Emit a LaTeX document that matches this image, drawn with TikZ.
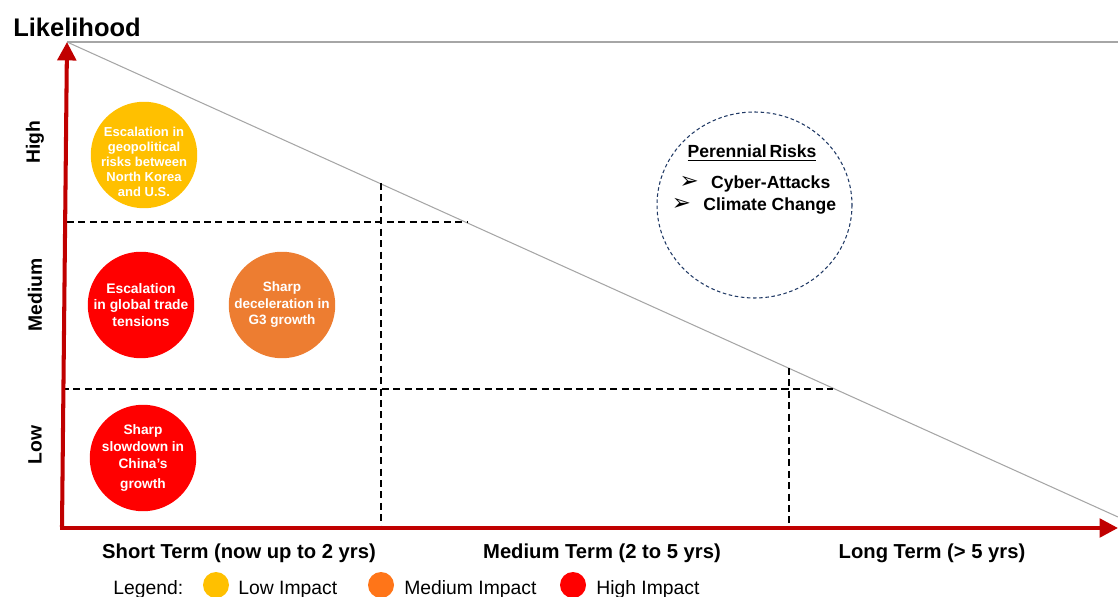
\documentclass[tikz,border=0pt]{standalone}
\usepackage{fontspec}
\setmainfont{Liberation Sans}
\newfontfamily\dingfont{DejaVu Sans}
\usetikzlibrary{arrows.meta}

\definecolor{axisred}{HTML}{C00000}
\definecolor{lowimp}{HTML}{FFC000}
\definecolor{medimp}{HTML}{ED7D31}
\definecolor{medleg}{HTML}{FF7518}
\definecolor{highimp}{HTML}{FF0000}
\definecolor{guidegray}{HTML}{A6A6A6}
\definecolor{ringblue}{HTML}{1F3864}

\begin{document}
\begin{tikzpicture}[x=0.02cm,y=-0.02cm,
    axis/.style={line width=2.3pt,axisred,-{Triangle[length=10.5pt,width=10.5pt]}},
    guide/.style={guidegray,line width=0.6pt},
    zone/.style={black,line width=0.8pt,dash pattern=on 4pt off 2.5pt},
    bubble/.style={circle,fill=#1,minimum size=2.13cm,inner sep=0pt,text=white,align=center},
    legdot/.style={circle,fill=#1,minimum size=0.52cm,inner sep=0pt},
    termlabel/.style={font=\fontsize{11.5}{13}\selectfont\bfseries,inner sep=0pt},
    levellabel/.style={font=\fontsize{11}{13}\selectfont\bfseries,rotate=90,inner sep=0pt},
    legtext/.style={font=\fontsize{11}{13}\selectfont,anchor=base west,inner sep=0pt}]
    \useasboundingbox (0,0) rectangle (1118,597);
    \newcommand\arrowbullet{{\dingfont\fontsize{13}{12}\selectfont ➢}\hspace{7pt}}

    \node[anchor=base west,inner sep=0pt,font=\fontsize{14.5}{16}\selectfont\bfseries] (title) at (13,37) {Likelihood};

    \coordinate (origin) at (62,527);
    \coordinate (ytop) at (67,42);
    \coordinate (xend) at (1118,528);
    \coordinate (topright) at (1118,42);
    \coordinate (diagend) at (1118,517);

    % frame: top edge and the falling diagonal
    \draw[guide] (ytop) -- (topright);
    \draw[guide] (ytop) -- (diagend);

    % zones, each dashed line stops on the diagonal
    \draw[zone] (67,222) -- (467,222);
    \draw[zone] (62,389) -- (833,389);
    \draw[zone] (381,183) -- (381,527);
    \draw[zone] (789,368) -- (789,527);

    \draw[axis] (origin) -- (ytop);
    \draw[axis] (60,528) -- (xend);

    \node[levellabel] (high) at (35,142) {High};
    \node[levellabel] (medium) at (35,295) {Medium};
    \node[levellabel] (low) at (35,445) {Low};

    \node[termlabel] (short) at (239,553) {Short Term (now up to 2 yrs)};
    \node[termlabel] (mid) at (602,553) {Medium Term (2 to 5 yrs)};
    \node[termlabel] (long) at (932,553) {Long Term (> 5 yrs)};

    \node[bubble=lowimp] (korea) at (144,155) {};
    \node[text=white,align=center,inner sep=0pt,font=\fontsize{7.4}{8.6}\selectfont\bfseries] (koreaText)
        at ([yshift=-4pt]korea.center) {Escalation in\\geopolitical\\risks between\\North Korea\\and U.S.};
    \node[bubble=highimp,font=\fontsize{7.9}{9.4}\selectfont\bfseries] (trade) at (141,305)
        {Escalation\\in global trade\\tensions};
    \node[bubble=medimp,font=\fontsize{7.7}{9.4}\selectfont\bfseries] (gthree) at (282,305)
        {Sharp\\deceleration in\\G3 growth};
    \node[bubble=highimp,font=\fontsize{7.8}{9.4}\selectfont\bfseries] (china) at (143,458)
        {Sharp\\slowdown in\\China's\\[2pt]growth};

    % perennial risks ring
    \draw[ringblue,line width=0.6pt,dash pattern=on 2pt off 1.5pt] (754.5,205) ellipse (97.5 and 93);
    \node[font=\fontsize{10}{12}\selectfont\bfseries,inner sep=0pt] (perennial) at (752,153) {\underline{Perennial\,Risks}};
    \node[font=\fontsize{10}{12}\selectfont\bfseries,inner sep=0pt] (cyber) at (755,184) {\arrowbullet Cyber-Attacks};
    \node[font=\fontsize{10}{12}\selectfont\bfseries,inner sep=0pt] (climate) at (754,206) {\arrowbullet Climate Change};

    % legend
    \node[legtext] (legend) at (113,594) {Legend:};
    \node[legdot=lowimp] (legLow) at (216,585) {};
    \node[legtext] (legLowText) at (238,594) {Low Impact};
    \node[legdot=medleg] (legMed) at (381,585) {};
    \node[legtext] (legMedText) at (404,594) {Medium Impact};
    \node[legdot=highimp] (legHigh) at (573,585) {};
    \node[legtext] (legHighText) at (596,594) {High Impact};
\end{tikzpicture}
\end{document}
